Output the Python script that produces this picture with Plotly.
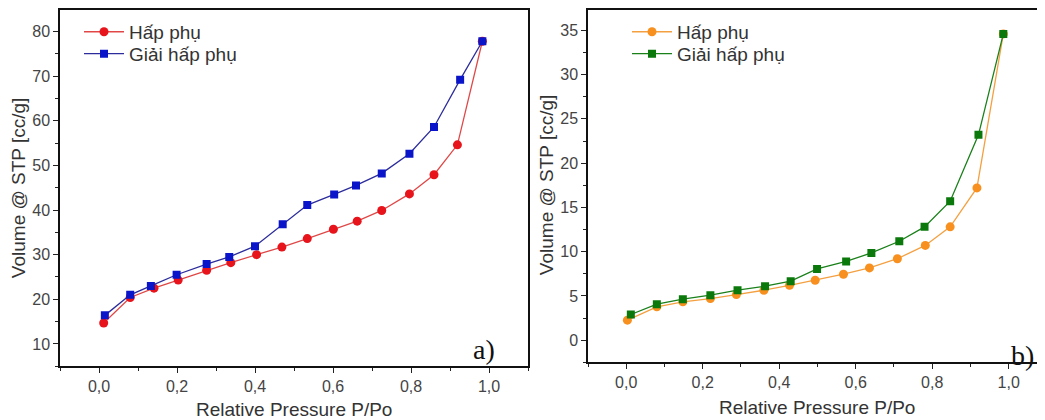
import plotly.graph_objects as go

# ---- Data (a) ----
a_ads_x = [0.012, 0.080, 0.141, 0.203, 0.276, 0.338, 0.404, 0.469, 0.534, 0.601, 0.662, 0.725, 0.796, 0.859, 0.919, 0.983]
a_ads_y = [14.7, 20.4, 22.5, 24.3, 26.5, 28.2, 30.0, 31.7, 33.6, 35.7, 37.5, 39.9, 43.6, 47.9, 54.6, 77.8]
a_des_x = [0.015, 0.080, 0.133, 0.199, 0.276, 0.334, 0.400, 0.471, 0.534, 0.603, 0.659, 0.725, 0.796, 0.859, 0.926, 0.983]
a_des_y = [16.4, 21.0, 23.0, 25.5, 27.9, 29.5, 31.9, 36.8, 41.1, 43.5, 45.5, 48.2, 52.6, 58.6, 69.2, 77.8]

# ---- Data (b) ----
b_ads_x = [0.003, 0.080, 0.148, 0.220, 0.288, 0.360, 0.427, 0.494, 0.568, 0.636, 0.709, 0.782, 0.847, 0.917, 0.986]
b_ads_y = [2.26, 3.76, 4.33, 4.70, 5.15, 5.64, 6.20, 6.77, 7.45, 8.16, 9.20, 10.7, 12.8, 17.2, 34.6]
b_des_x = [0.012, 0.080, 0.148, 0.220, 0.291, 0.363, 0.430, 0.499, 0.575, 0.641, 0.714, 0.780, 0.847, 0.921, 0.986]
b_des_y = [2.90, 4.06, 4.63, 5.08, 5.64, 6.10, 6.66, 8.05, 8.90, 9.85, 11.17, 12.8, 15.7, 23.2, 34.6]

name_ads = "Hấp phụ"
name_des = "Giải hấp phụ"
x_title = "Relative Pressure P/Po"
y_title = "Volume @ STP [cc/g]"

# page has an 8px body margin; figure sized to fill the rest of the window
OFF = 8
W, H = 1045 - OFF, 420 - OFF
FONT = "Liberation Sans, Arial, sans-serif"


def px(x):
    return min(1.0, max(0.0, (x - OFF) / W))


def py(y):
    return min(1.0, max(0.0, (H - (y - OFF)) / H))


fig = go.Figure()

fig.add_trace(go.Scatter(x=a_ads_x, y=a_ads_y, name=name_ads, mode="lines+markers",
                         line=dict(color="#e04848", width=1.3),
                         marker=dict(symbol="circle", size=9, color="#e8141c"),
                         xaxis="x", yaxis="y", legend="legend"))
fig.add_trace(go.Scatter(x=a_des_x, y=a_des_y, name=name_des, mode="lines+markers",
                         line=dict(color="#2c2c9c", width=1.3),
                         marker=dict(symbol="square", size=8, color="#0a14c8"),
                         xaxis="x", yaxis="y", legend="legend2"))
fig.add_trace(go.Scatter(x=b_ads_x, y=b_ads_y, name=name_ads, mode="lines+markers",
                         line=dict(color="#f4a040", width=1.3),
                         marker=dict(symbol="circle", size=9, color="#f7901e"),
                         xaxis="x2", yaxis="y2", legend="legend3"))
fig.add_trace(go.Scatter(x=b_des_x, y=b_des_y, name=name_des, mode="lines+markers",
                         line=dict(color="#1a801a", width=1.3),
                         marker=dict(symbol="square", size=8, color="#0a780a"),
                         xaxis="x2", yaxis="y2", legend="legend4"))

axis_common = dict(showgrid=False, zeroline=False, showline=True, linecolor="#111",
                   linewidth=1.5, ticks="outside", ticklen=5, tickwidth=1.2, tickcolor="#222",
                   tickfont=dict(family=FONT, size=16, color="#444"))
minor_common = dict(ticks="outside", ticklen=3, tickcolor="#222")


def leg(xp, yp):
    return dict(x=px(xp), y=py(yp), xanchor="left", yanchor="middle", bgcolor="rgba(0,0,0,0)",
                font=dict(family=FONT, size=19, color="#333"), itemwidth=40)


fig.update_layout(
    width=W, height=H, margin=dict(l=0, r=0, t=0, b=0),
    paper_bgcolor="white", plot_bgcolor="white",
    separators=",.",
    xaxis=dict(domain=[px(60), px(528)], range=[-0.1, 1.1], dtick=0.2, tickformat=".1f", anchor="y",
               mirror=True, minor=dict(dtick=0.1, **minor_common), **axis_common),
    yaxis=dict(domain=[py(366), py(8)], range=[5, 84.8], dtick=10, anchor="x", mirror=True,
               minor=dict(dtick=5, **minor_common), **axis_common),
    xaxis2=dict(domain=[px(588), 1.0], range=[-0.1, 1.095], dtick=0.2, tickformat=".1f", anchor="y2",
                mirror=True, minor=dict(dtick=0.1, **minor_common), **axis_common),
    yaxis2=dict(domain=[py(362), py(8)], range=[-2.5, 37.3], dtick=5, anchor="x2",
                minor=dict(dtick=2.5, **minor_common), **axis_common),
    legend=leg(79, 30),
    legend2=leg(79, 52),
    legend3=leg(627, 30),
    legend4=leg(627, 52),
    showlegend=True,
)

ann_font = dict(family=FONT, size=19, color="#333")
serif = dict(family="Liberation Serif, Times New Roman, serif", size=28, color="#111")
annotations = [
    dict(text=x_title, x=px((60 + 528) / 2), y=py(409), xref="paper", yref="paper",
         showarrow=False, font=ann_font, xanchor="center", yanchor="middle"),
    dict(text=x_title, x=px((588 + 1045) / 2), y=py(407), xref="paper", yref="paper",
         showarrow=False, font=ann_font, xanchor="center", yanchor="middle"),
    dict(text=y_title, x=px(18), y=py(187), xref="paper", yref="paper", textangle=-90,
         showarrow=False, font=ann_font, xanchor="center", yanchor="middle"),
    dict(text=y_title, x=px(546), y=py(184), xref="paper", yref="paper", textangle=-90,
         showarrow=False, font=ann_font, xanchor="center", yanchor="middle"),
    dict(text="a)", x=px(484), y=py(349), xref="paper", yref="paper",
         showarrow=False, font=serif, xanchor="center", yanchor="middle"),
    dict(text="b)", x=px(1022), y=py(355), xref="paper", yref="paper",
         showarrow=False, font=serif, xanchor="center", yanchor="middle"),
]
fig.update_layout(annotations=annotations)

fig.write_html("out.html")
